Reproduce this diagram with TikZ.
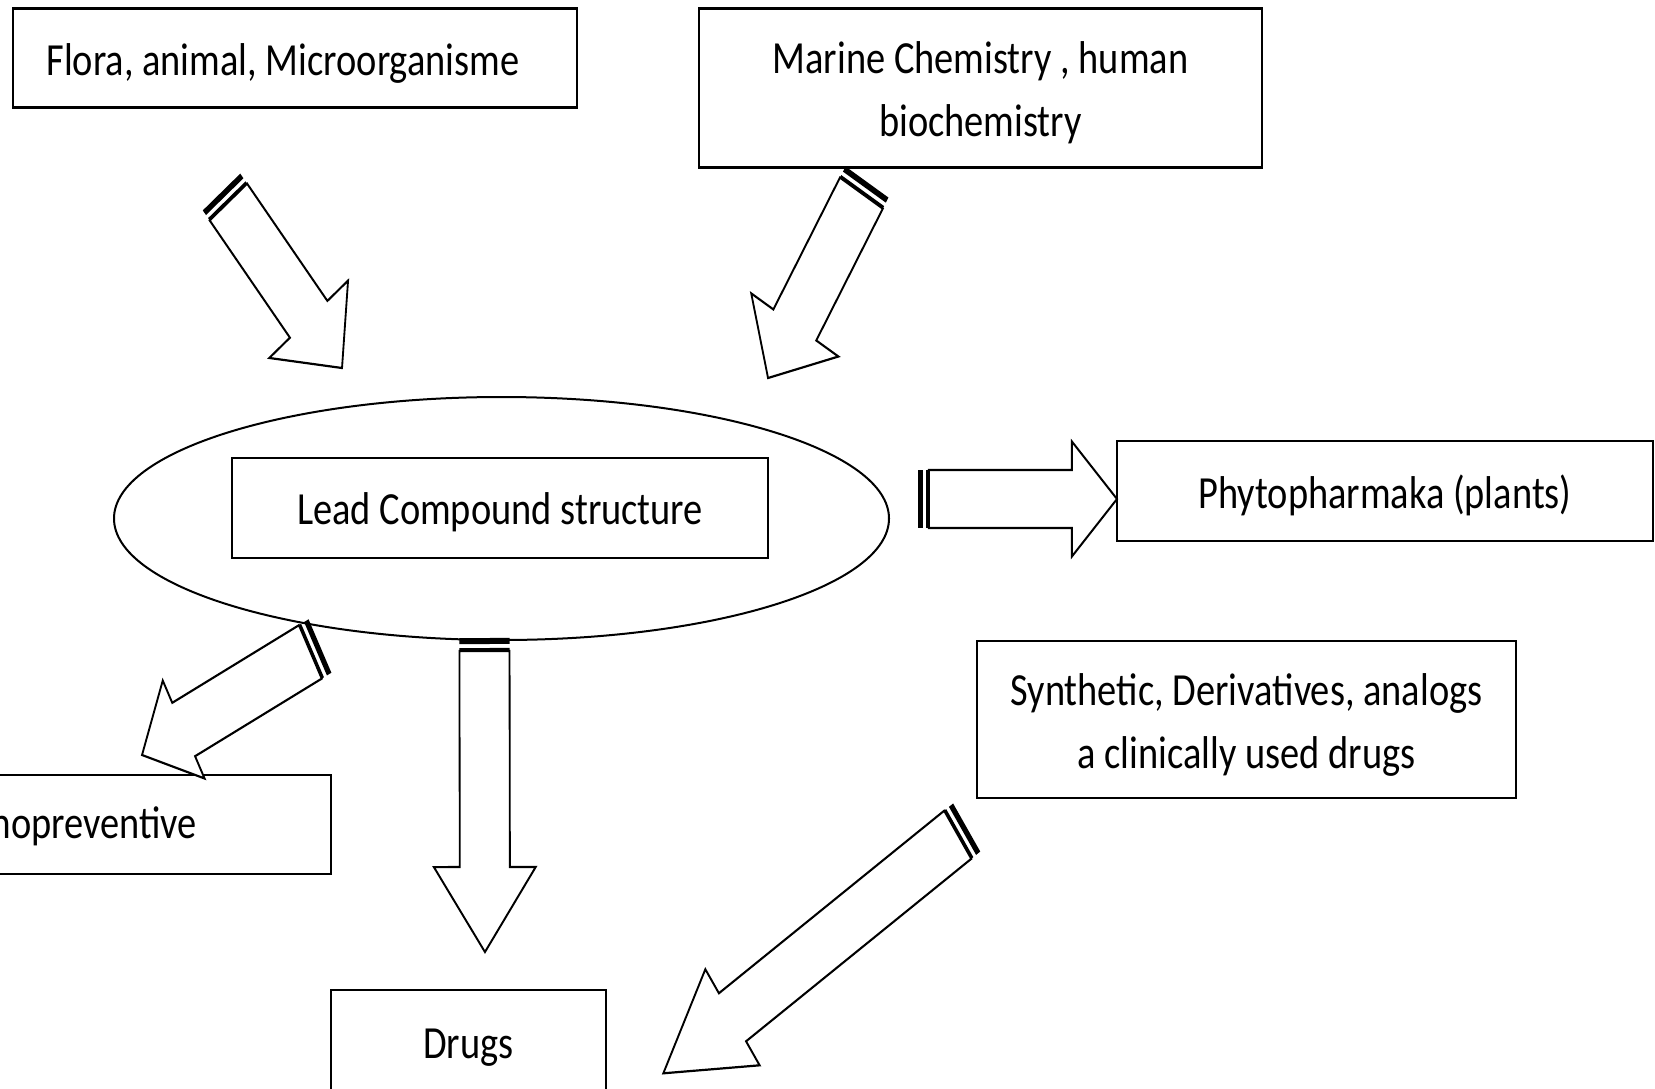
\documentclass[tikz,border=0pt]{standalone}
\usepackage{fontspec}
\setmainfont{Carlito}[FakeStretch=0.835]
\usetikzlibrary{calc,shapes.geometric}
\tikzset{
  frame/.style={draw=black, line width=2.5pt, rectangle, inner sep=0pt},
  txt/.style={inner sep=0pt, align=center, font=\fontsize{46}{63}\selectfont},
  oval/.style={draw=black, line width=2pt, ellipse, inner sep=0pt},
  arrowline/.style={draw=black, line width=2.2pt, fill=white, line join=miter},
}
% striped block arrow: #1 tail, #2 tip, #3 shaft half width, #4 head half width, #5 head length
\newcommand\stripedarrow[5]{%
  \coordinate (sa0) at (#1);
  \coordinate (sa1) at ($(#1)!6pt!(#2)$);
  \coordinate (sa2) at ($(#1)!10pt!(#2)$);
  \coordinate (sa3) at ($(#1)!13pt!(#2)$);
  \coordinate (sah) at ($(#2)!#5pt!(#1)$);
  \fill[black] ($(sa0)!#3pt!90:(#2)$) -- ($(sa0)!#3pt!-90:(#2)$) -- ($(sa1)!#3pt!-90:(#2)$) -- ($(sa1)!#3pt!90:(#2)$) -- cycle;
  \fill[black] ($(sa2)!#3pt!90:(#2)$) -- ($(sa2)!#3pt!-90:(#2)$) -- ($(sa3)!#3pt!-90:(#2)$) -- ($(sa3)!#3pt!90:(#2)$) -- cycle;
  \draw[arrowline] ($(sa3)!#3pt!90:(#2)$) -- ($(sah)!#3pt!90:(#2)$) -- ($(sah)!#4pt!90:(#2)$) -- (#2)
     -- ($(sah)!#4pt!-90:(#2)$) -- ($(sah)!#3pt!-90:(#2)$) -- ($(sa3)!#3pt!-90:(#2)$) -- cycle;
}
\begin{document}
\begin{tikzpicture}[x=1pt,y=-1pt]
\useasboundingbox (0,0) rectangle (1655,1088);
\clip (0,0) rectangle (1655,1088);
\fill[white] (0,0) rectangle (1655,1088);

% boxes
\node[frame, minimum width=564pt, minimum height=99pt] (flora) at (295,58) {};
\node[txt] (flora text) at ($(flora.center)+(-12,5)$) {Flora, animal, Microorganisme};
\node[frame, minimum width=563pt, minimum height=159pt] (marine) at (980.5,88) {};
\node[txt] (marine text) at ($(marine.center)+(0,5)$) {Marine Chemistry , human\\biochemistry};
\node[oval, minimum width=775pt, minimum height=243pt] (lead oval) at (501.5,518.5) {};
\node[frame, minimum width=536pt, minimum height=100pt] (lead) at (500,508) {};
\node[txt] (lead text) at ($(lead.center)+(0,4)$) {Lead Compound structure};
\node[frame, minimum width=536pt, minimum height=100pt] (phyto) at (1385,491) {};
\node[txt] (phyto text) at ($(phyto.center)+(0,4)$) {Phytopharmaka (plants)};
\node[frame, minimum width=544pt, minimum height=99pt] (chemo) at (59,824.5) {};
\node[txt] (chemo text) at ($(chemo.center)+(0,2)$) {Chemopreventive};
\node[frame, minimum width=539pt, minimum height=157pt] (synth) at (1246.5,719.5) {};
\node[txt] (synth text) at ($(synth.center)+(0,5)$) {Synthetic, Derivatives, analogs\\a clinically used drugs};
\node[frame, minimum width=275pt, minimum height=100pt] (drugs) at (468.5,1040) {};
\node[txt] (drugs text) at ($(drugs.center)+(0,8)$) {Drugs};

% block arrows, drawn in unstretched space and squeezed horizontally like the reference
\begin{scope}[transform canvas={xscale=0.835}]
\coordinate (aT) at (265.3,192);   \coordinate (aH) at (409.6,368);
\coordinate (bT) at (1038.3,182);  \coordinate (bH) at (919.8,378);
\coordinate (cT) at (383.2,646);   \coordinate (cH) at (170.1,755);
\coordinate (dT) at (1099.4,499);  \coordinate (dH) at (1337.7,499);
\coordinate (eT) at (580.2,638);   \coordinate (eH) at (580.8,952);
\coordinate (fT) at (1157.7,827.5); \coordinate (fH) at (794.4,1073.3);

\stripedarrow{aT}{aH}{29}{61}{63}
\stripedarrow{bT}{bH}{30}{61}{62}
\stripedarrow{cT}{cH}{30}{55}{56}
\stripedarrow{dT}{dH}{29}{57.5}{54}
\stripedarrow{eT}{eH}{30}{61}{85}
\stripedarrow{fT}{fH}{29}{58}{100}
\end{scope}
\end{tikzpicture}
\end{document}
